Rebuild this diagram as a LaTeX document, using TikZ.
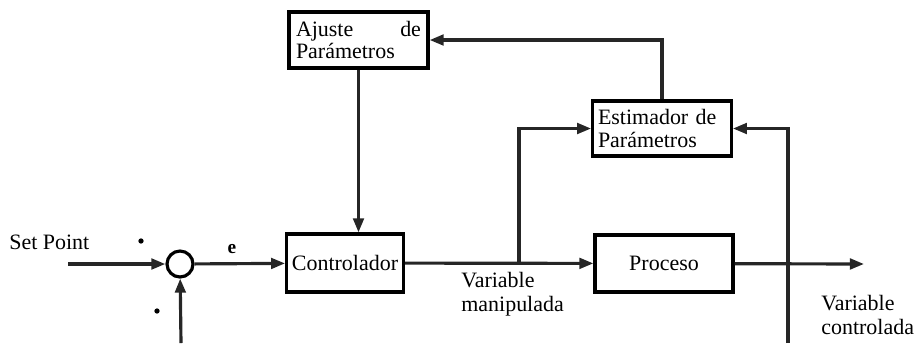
\documentclass[tikz,border=0pt]{standalone}
\usepackage{fontspec}
\setmainfont{Liberation Serif}
\usetikzlibrary{arrows.meta}

\tikzset{
	block/.style={draw,line width=1.8pt,inner sep=3pt,font=\fontsize{12.5}{13}\selectfont},
	wire/.style={line width=1.8pt,draw=black!85},
	to/.style={wire,-{Triangle[length=8pt,width=6pt]}},
	lbl/.style={font=\fontsize{12.5}{13.5}\selectfont,inner sep=0pt,align=left},
	sign/.style={circle,fill,inner sep=0pt,minimum size=3pt},
}

\begin{document}
\begin{tikzpicture}[x=0.02cm,y=-0.02cm]
	\useasboundingbox (0,0) rectangle (922,343);
	% bloques
	\node[block,minimum width=139*0.02cm,minimum height=56*0.02cm,text width=125*0.02cm,align=left] (adj) at (358.5,40) {Ajuste\hfill de\\Parámetros};
	\node[block,minimum width=138*0.02cm,minimum height=55*0.02cm,text width=128*0.02cm,align=left] (est) at (662,128.5) {Estimador de\\Parámetros};
	\node[block,minimum width=110*0.02cm,minimum height=58*0.02cm] (ctrl) at (345,263) {Controlador};
	\node[block,minimum width=138*0.02cm,minimum height=57*0.02cm] (proc) at (664,263.5) {Proceso};
	\node[draw,circle,line width=1.8pt,minimum size=26*0.02cm,inner sep=0pt] (sum) at (180,264) {};
	% puntos libres
	\coordinate (sp) at (68,264);
	\coordinate (fb) at (181,343);
	\coordinate (br) at (519,264);
	\coordinate (out) at (864,264);
	\coordinate (vc) at (788,343);
	% textos
	\node[lbl,anchor=west] (spt) at (9,242) {Set Point};
	\node[sign] (plus) at (141,241) {};
	\node[sign] (minus) at (157,311) {};
	\node[lbl,font=\fontsize{11}{12}\selectfont\bfseries] (e) at (232,249) {e};
	\node[lbl,anchor=north west] (vm) at (461,272) {Variable\\manipulada};
	\node[lbl,anchor=north west] (vcl) at (821,295) {Variable\\controlada};
	% conexiones
	\draw[to] (sp) -- (sum);
	\draw[to] (fb) -- (sum);
	\draw[to] (sum) -- (ctrl);
	\draw[to] (ctrl) -- (proc);
	\draw[to] (proc) -- (out);
	\draw[to] (br) |- (est.west);
	\draw[to] (vc) |- (est.east);
	\draw[to] (est.north) |- (adj.east);
	\draw[to] (adj.south) -- (adj.south |- ctrl.north);
\end{tikzpicture}
\end{document}
